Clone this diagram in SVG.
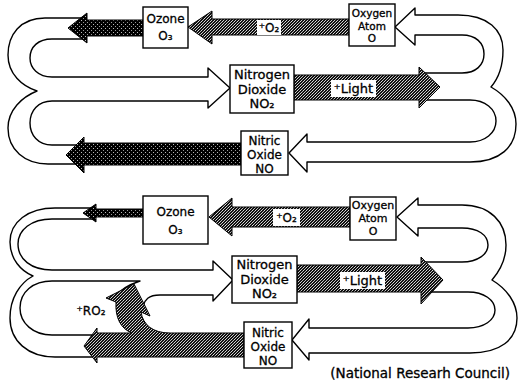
<svg xmlns="http://www.w3.org/2000/svg" width="518" height="385" viewBox="0 0 518 385">
<defs>
<pattern id="pDark" patternUnits="userSpaceOnUse" width="4" height="4">
<rect width="4" height="4" fill="#000"/>
<rect x="1" y="0" width="1" height="1" fill="#bbb"/>
<rect x="3" y="2" width="1" height="1" fill="#999"/>
</pattern>
<pattern id="pMed" patternUnits="userSpaceOnUse" width="3" height="3">
<rect width="3" height="3" fill="#111"/>
<rect x="0" y="0" width="1" height="1" fill="#ddd"/>
<rect x="2" y="1" width="1" height="1" fill="#bbb"/>
<rect x="1" y="2" width="1" height="1" fill="#ccc"/>
</pattern>
</defs>
<style>
.band{fill:#fff;stroke:#000;stroke-width:1.4;stroke-linejoin:round}
.dk{fill:url(#pDark);stroke:#000;stroke-width:1}
.md{fill:url(#pMed);stroke:#000;stroke-width:1}
.box{fill:#fff;stroke:#000;stroke-width:1.4}
.lbl{fill:#fff}
text{font-family:"DejaVu Sans","Liberation Sans",sans-serif;fill:#000;stroke:#000;stroke-width:0.3;text-anchor:middle;font-size:12px}
.s13{font-size:13px}
.s11{font-size:11px}
.s105{font-size:10.5px}
</style>
<rect width="518" height="385" fill="#fff"/>

<g id="connectors">
<!-- top diagram -->
<path class="band" d="M84,18 L45,18 C20,18 8,35 8,55 C8,74 22,86 37,91 C22,97 8,110 8,128 C8,150 25,164 48,164 L82,164 L82,145 L52,145 C38,145 30,135 30,123 C30,111 38,101 52,101 L208,101 L208,108 L230,88 L208,68 L208,77 L52,77 C38,77 30,68 30,58 C30,47 38,39 52,39 L84,39 Z"/>
<path class="band" d="M395,27 L415,8 L415,15 L458,15 C488,15 503,30 503,50 C503,68 497,80 491,87 C505,95 516,108 516,124 C516,147 500,162 470,162 L307,162 L307,172 L289,153 L307,134 L307,142 L470,142 C485,142 496,133 496,121 C496,109 485,100 470,100 L424,100 L424,73 L462,73 C476,73 484,65 484,54 C484,43 476,35 462,35 L415,35 L415,45 Z"/>
<path class="dk" d="M143,20 L87,20 L87,13 L68,28 L87,43 L87,36 L143,36 Z"/>
<path class="md" d="M349,19 L212,19 L212,11 L188,27 L212,44 L212,35 L349,35 Z"/>
<path class="md" d="M294,75 L419,75 L419,67 L440,87 L419,108 L419,100 L294,100 Z"/>
<path class="dk" d="M241,143 L84,143 L84,137 L66,155 L84,173 L84,165 L241,165 Z"/>
<rect class="lbl" x="257" y="20" width="24" height="15"/>
<text x="269" y="32">⁺O₂</text>
<rect class="lbl" x="331" y="80" width="45" height="17"/>
<text class="s13" x="353.5" y="93">⁺Light</text>

<!-- bottom diagram -->
<path class="band" d="M92,208 L55,208 C28,208 10,222 10,242 C10,259 21,271 33,276 C20,283 10,298 10,318 C10,341 28,357 55,357 L93,357 L93,335 L52,335 C33,335 20,323 20,308 C20,292 33,281 52,281 L140,281 C128,285 119,291 115,297 L143,306 C145,300 148,295 160,295 L213,295 L213,301 L233,280 L213,261 L213,270 L52,270 C31,270 18,259 18,244 C18,230 31,219 52,219 L92,219 Z"/>
<path class="band" d="M397,217 L418,198 L418,205 L462,205 C490,205 506,222 506,245 C506,262 498,273 492,280 C507,289 517,303 517,318 C517,340 500,353 470,353 L309,353 L309,360 L292,340 L309,319 L309,328 L468,328 C484,328 495,320 495,310 C495,300 484,292 468,292 L423,292 L423,262 L462,262 C478,262 488,254 488,245 C488,235 478,228 462,228 L418,228 L418,236 Z"/>
<path class="dk" d="M143,209 L96,209 L96,204 L83,213 L96,222 L96,217 L143,217 Z"/>
<path class="md" d="M350,207 L232,207 L232,198 L209,217 L232,236 L232,227 L350,227 Z"/>
<path class="md" d="M297,265 L421,265 L421,257 L443,280 L421,304 L421,292 L297,292 Z"/>
<path class="md" d="M244,333 L170,333 C153,333 143,325 141,312 L150,316 L134,284 L106,298 L116,302 C115,318 121,329 132,333 L97,333 L97,328 L84,346 L97,363 L97,357 L244,357 Z"/>
<rect class="lbl" x="273" y="209" width="27" height="17"/>
<text x="286.5" y="222">⁺O₂</text>
<rect class="lbl" x="340" y="272" width="45" height="17"/>
<text class="s13" x="362.5" y="285">⁺Light</text>
<text x="91" y="315">⁺RO₂</text>
</g>

<g id="ozone-top"><rect class="box" x="143" y="7" width="45" height="41"/><text x="165.5" y="23">Ozone</text><text x="165.5" y="40">O₃</text></g>
<g id="oxygen-top"><rect class="box" x="349" y="4" width="46" height="42"/><text class="s105" x="372" y="17">Oxygen</text><text class="s105" x="372" y="29.5">Atom</text><text class="s105" x="372" y="42">O</text></g>
<g id="no2-top"><rect class="box" x="230" y="65" width="64" height="48"/><text class="s13" x="262" y="79">Nitrogen</text><text class="s13" x="262" y="94">Dioxide</text><text class="s13" x="262" y="108">NO₂</text></g>
<g id="no-top"><rect class="box" x="241" y="131" width="47" height="44"/><text x="264.5" y="145">Nitric</text><text x="264.5" y="159">Oxide</text><text x="264.5" y="172.5">NO</text></g>

<g id="ozone-bottom"><rect class="box" x="143" y="196" width="65" height="48"/><text x="175.5" y="216">Ozone</text><text x="175.5" y="234">O₃</text></g>
<g id="oxygen-bottom"><rect class="box" x="350" y="197" width="46" height="43"/><text class="s11" x="373" y="208.5">Oxygen</text><text class="s11" x="373" y="221.5">Atom</text><text class="s11" x="373" y="234.5">O</text></g>
<g id="no2-bottom"><rect class="box" x="232" y="256" width="65" height="47"/><text class="s13" x="264.5" y="269">Nitrogen</text><text class="s13" x="264.5" y="284">Dioxide</text><text class="s13" x="264.5" y="298">NO₂</text></g>
<g id="no-bottom"><rect class="box" x="244" y="322" width="48" height="46"/><text x="268" y="337">Nitric</text><text x="268" y="351">Oxide</text><text x="268" y="365">NO</text></g>

<text x="510" y="378" style="text-anchor:end;font-size:13.5px">(National Researh Council)</text>
</svg>
